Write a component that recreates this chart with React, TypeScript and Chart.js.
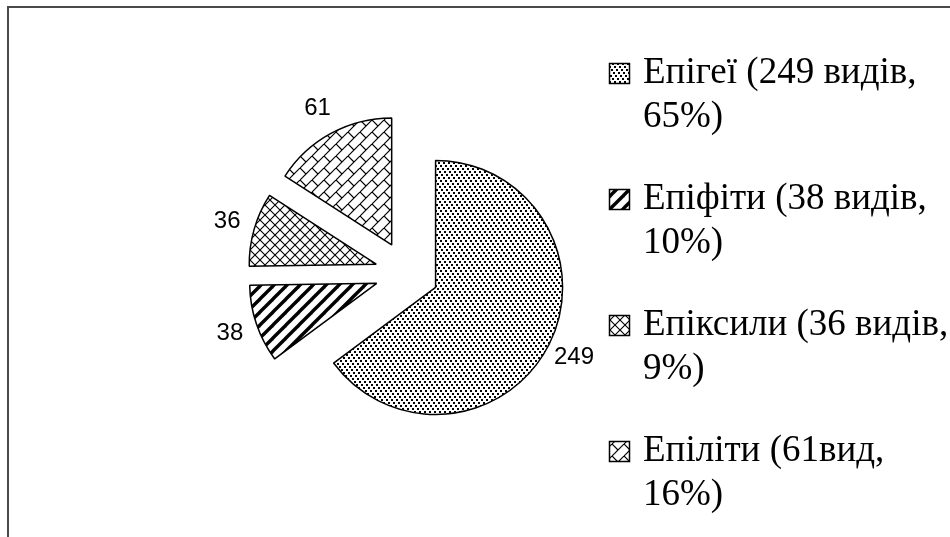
import React, { useEffect, useRef } from 'react';
import { Chart, registerables } from 'chart.js';

Chart.register(...registerables);

// ---- data ----
const categories = ['Епігеї', 'Епіфіти', 'Епіксили', 'Епіліти'];
const speciesCounts = [249, 38, 36, 61];
const legendLine1 = ['Епігеї (249 видів,', 'Епіфіти (38 видів,', 'Епіксили (36 видів,', 'Епіліти (61вид,'];
const legendLine2 = ['65%)', '10%)', '9%)', '16%)'];
const patternKinds = ['dots', 'stripes', 'cross', 'brick'];

// ---- layout constants ----
const W = 950;
const H = 537;
const EXPLODE = 32;
const PIE_RADIUS = 127;
const LABEL_GAP = 28;
const LEGEND_ICON_X = 609;
const LEGEND_ICON_SIZE = 21;
const LEGEND_TEXT_X = 643;
const LEGEND_FIRST_BASELINE = 83;
const LEGEND_STEP = 126;
const LEGEND_LINE_GAP = 44;
const LEGEND_FONT = '37px "Liberation Serif", "Times New Roman", serif';
const LABEL_FONT = '24px "Liberation Sans", Arial, sans-serif';

function makeTile(kind: string): HTMLCanvasElement {
  const c = document.createElement('canvas');
  let w = 8, h = 8;
  if (kind === 'dots') { w = 5; h = 15; }
  if (kind === 'stripes') { w = 13; h = 13; }
  if (kind === 'cross') { w = 10; h = 10; }
  if (kind === 'brick') { w = 12; h = 12; }
  c.width = w; c.height = h;
  const g = c.getContext('2d')!;
  g.fillStyle = '#ffffff';
  g.fillRect(0, 0, w, h);
  g.fillStyle = '#000000';
  g.strokeStyle = '#000000';
  if (kind === 'dots') {
    for (let k = 0; k < 5; k++) {
      const x = (2 * k) % 5;
      const y = 3 * k;
      g.fillRect(x, y, 2, 2);
      if (x + 2 > w) g.fillRect(x - w, y, 2, 2);
    }
  } else if (kind === 'stripes') {
    g.lineWidth = 3.4;
    for (const o of [-w, 0, w]) {
      g.beginPath();
      g.moveTo(o - 2, h + 2);
      g.lineTo(o + w + 2, -2);
      g.stroke();
    }
  } else if (kind === 'cross') {
    g.lineWidth = 1.1;
    for (const o of [-w, 0, w]) {
      g.beginPath();
      g.moveTo(o, h);
      g.lineTo(o + w, 0);
      g.moveTo(o, 0);
      g.lineTo(o + w, h);
      g.stroke();
    }
  } else if (kind === 'brick') {
    g.lineWidth = 1.2;
    for (const o of [-w, 0, w]) {
      g.beginPath();
      g.moveTo(o, h);
      g.lineTo(o + w, 0);
      g.stroke();
    }
    g.beginPath();
    g.moveTo(0, 0);
    g.lineTo(w / 2, h / 2);
    g.moveTo(w, 0);
    g.lineTo(w + w / 2, h / 2);
    g.stroke();
  }
  return c;
}

export default function App() {
  const canvasRef = useRef<HTMLCanvasElement | null>(null);

  useEffect(() => {
    const canvas = canvasRef.current;
    if (!canvas) return;
    const ctx = canvas.getContext('2d')!;
    const patterns = patternKinds.map((k) => ctx.createPattern(makeTile(k), 'repeat') as CanvasPattern);

    const explodePlugin = {
      id: 'explodeSlices',
      afterDatasetUpdate(_chart: any, args: any) {
        args.meta.data.forEach((arc: any) => {
          const mid = (arc.startAngle + arc.endAngle) / 2;
          arc.x += Math.cos(mid) * EXPLODE;
          arc.y += Math.sin(mid) * EXPLODE;
        });
      },
    };

    const labelPlugin = {
      id: 'sliceLabels',
      afterDatasetsDraw(chart: any) {
        const c = chart.ctx;
        const meta = chart.getDatasetMeta(0);
        c.save();
        c.font = LABEL_FONT;
        c.fillStyle = '#000000';
        c.textAlign = 'center';
        c.textBaseline = 'middle';
        meta.data.forEach((arc: any, i: number) => {
          const mid = (arc.startAngle + arc.endAngle) / 2;
          const d = arc.outerRadius + LABEL_GAP;
          c.fillText(String(speciesCounts[i]), arc.x + Math.cos(mid) * d, arc.y + Math.sin(mid) * d);
        });
        c.restore();
      },
    };

    const framePlugin = {
      id: 'frameAndLegend',
      afterDraw(chart: any) {
        const c = chart.ctx;
        c.save();
        c.strokeStyle = '#4a4a4a';
        c.lineWidth = 2;
        c.strokeRect(8, 7, W + 20, H + 20);
        c.font = LEGEND_FONT;
        c.textAlign = 'left';
        c.textBaseline = 'alphabetic';
        categories.forEach((_name, i) => {
          const base = LEGEND_FIRST_BASELINE + i * LEGEND_STEP;
          const iy = base - 20;
          c.fillStyle = patterns[i];
          c.fillRect(LEGEND_ICON_X, iy, LEGEND_ICON_SIZE, LEGEND_ICON_SIZE);
          c.strokeStyle = '#000000';
          c.lineWidth = 1.5;
          c.strokeRect(LEGEND_ICON_X + 0.5, iy + 0.5, LEGEND_ICON_SIZE - 1, LEGEND_ICON_SIZE - 1);
          c.fillStyle = '#000000';
          c.fillText(legendLine1[i], LEGEND_TEXT_X, base);
          c.fillText(legendLine2[i], LEGEND_TEXT_X, base + LEGEND_LINE_GAP);
        });
        c.restore();
      },
    };

    const chart = new Chart(canvas, {
      type: 'pie',
      data: {
        labels: categories,
        datasets: [
          {
            data: speciesCounts,
            backgroundColor: patterns,
            borderColor: '#000000',
            borderWidth: 1.5,
            radius: PIE_RADIUS,
          } as any,
        ],
      },
      options: {
        responsive: false,
        animation: false,
        events: [],
        layout: { padding: { left: 260, right: W - 554, top: 130, bottom: H - 416 } },
        plugins: {
          legend: { display: false },
          tooltip: { enabled: false },
          title: { display: false },
        },
      },
      plugins: [explodePlugin, labelPlugin, framePlugin],
    });

    return () => chart.destroy();
  }, []);

  return (
    <div style={{ position: 'fixed', left: 0, top: 0, width: W, height: H, background: '#ffffff' }}>
      <canvas ref={canvasRef} width={W} height={H} style={{ display: 'block', width: W, height: H }} />
    </div>
  );
}
